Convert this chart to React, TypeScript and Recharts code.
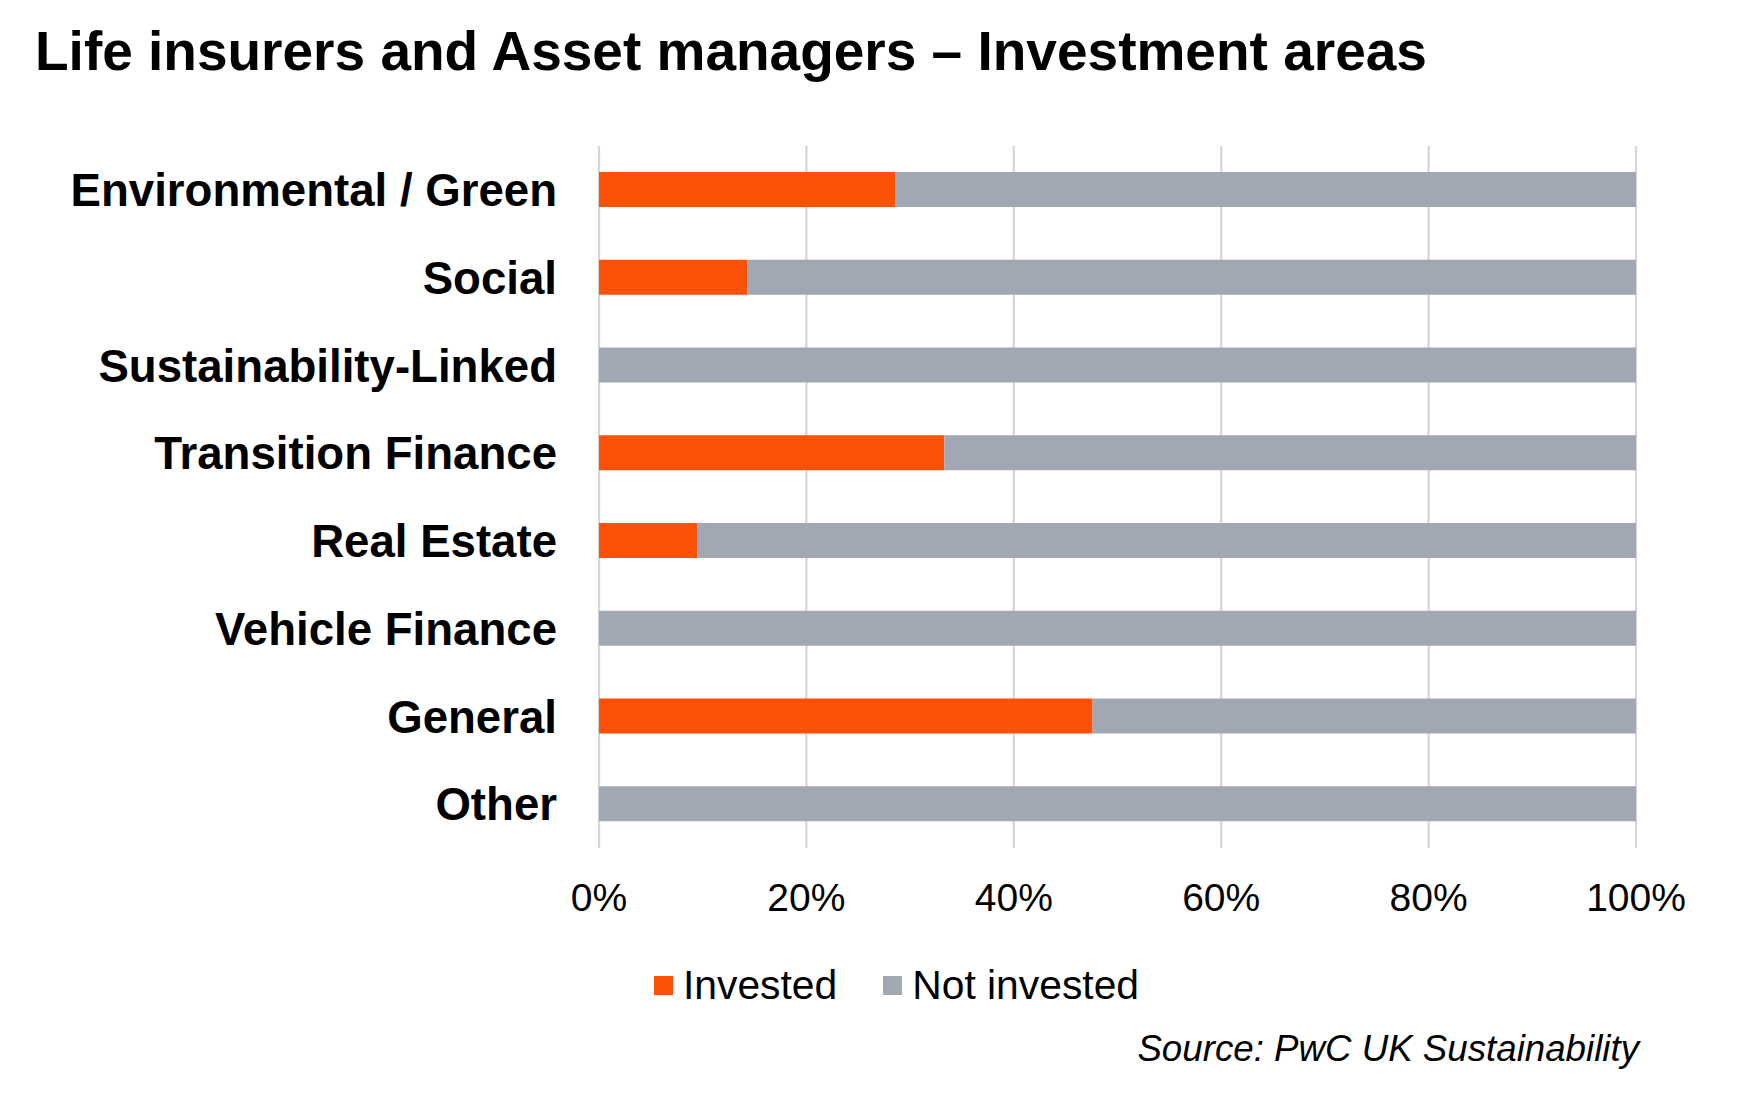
import { BarChart, Bar, XAxis, YAxis, CartesianGrid, Legend } from 'recharts';

const FONT = '"Liberation Sans", Arial, sans-serif';

const categories = [
  'Environmental / Green',
  'Social',
  'Sustainability-Linked',
  'Transition Finance',
  'Real Estate',
  'Vehicle Finance',
  'General',
  'Other',
];
const invested = [28.6, 14.3, 0, 33.3, 9.5, 0, 47.6, 0];
const notInvested = [71.4, 85.7, 100, 66.7, 90.5, 100, 52.4, 100];
const xTicks = [0, 20, 40, 60, 80, 100];

const ORANGE = '#FD5108';
const GREY = '#A1A8B3';

const data = categories.map((name, i) => ({
  name,
  Invested: invested[i],
  'Not invested': notInvested[i],
}));

const legendItems = [
  { label: 'Invested', color: ORANGE },
  { label: 'Not invested', color: GREY },
];

function LegendContent() {
  return (
    <div style={{ display: 'flex', alignItems: 'center', fontFamily: FONT }}>
      {legendItems.map((item, i) => (
        <div
          key={item.label}
          style={{ display: 'flex', alignItems: 'center', marginRight: i === 0 ? 46 : 0 }}
        >
          <span style={{ width: 19, height: 19, background: item.color, marginRight: 10 }} />
          <span style={{ fontSize: 40.8, lineHeight: '40px', color: '#000' }}>{item.label}</span>
        </div>
      ))}
    </div>
  );
}

export default function App() {
  return (
    <div
      style={{
        position: 'absolute',
        left: 0,
        top: 0,
        width: 1739,
        height: 1095,
        background: '#fff',
        fontFamily: FONT,
      }}
    >
      <div
        style={{
          position: 'absolute',
          left: 35,
          top: 24,
          fontSize: 55,
          lineHeight: '54px',
          fontWeight: 'bold',
          color: '#000',
          whiteSpace: 'nowrap',
        }}
      >
        Life insurers and Asset managers – Investment areas
      </div>

      <div style={{ position: 'absolute', left: 0, top: 0 }}>
        <BarChart
          width={1739}
          height={1095}
          data={data}
          layout="vertical"
          margin={{ top: 146, right: 103, bottom: 187, left: 0 }}
        >
          <CartesianGrid horizontal={false} stroke="#D6D6D6" strokeWidth={2.2} />
          <XAxis
            type="number"
            domain={[0, 100]}
            ticks={xTicks}
            tickFormatter={(v: number) => `${v}%`}
            axisLine={false}
            tickLine={false}
            tickSize={0}
            tickMargin={35}
            height={60}
            interval={0}
            tick={{ fill: '#000', fontSize: 39, fontFamily: FONT }}
          />
          <YAxis
            type="category"
            dataKey="name"
            width={599}
            axisLine={false}
            tickLine={false}
            tickSize={0}
            tickMargin={42}
            interval={0}
            tick={{ fill: '#000', fontSize: 45.6, fontWeight: 'bold', fontFamily: FONT }}
          />
          <Legend
            layout="horizontal"
            verticalAlign="middle"
            align="center"
            content={<LegendContent />}
            wrapperStyle={{ left: 654, top: 965, width: 600, height: 40 }}
          />
          <Bar dataKey="Invested" stackId="a" fill={ORANGE} barSize={35} isAnimationActive={false} />
          <Bar dataKey="Not invested" stackId="a" fill={GREY} barSize={35} isAnimationActive={false} />
        </BarChart>
      </div>

      <div
        style={{
          position: 'absolute',
          right: 100,
          top: 1030,
          fontSize: 36.7,
          lineHeight: '37px',
          fontStyle: 'italic',
          color: '#000',
          whiteSpace: 'nowrap',
        }}
      >
        Source: PwC UK Sustainability
      </div>
    </div>
  );
}
